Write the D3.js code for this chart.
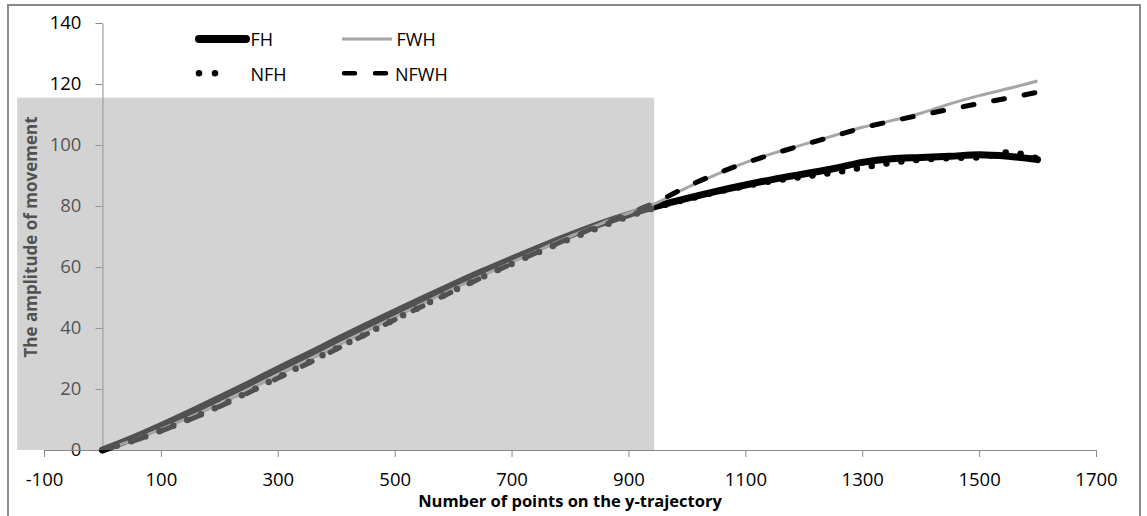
<!DOCTYPE html>
<html>
<head>
<meta charset="utf-8">
<script src="https://cdn.jsdelivr.net/npm/d3@7"></script>
<style>
  html, body { margin: 0; padding: 0; background: #fff; }
  svg { display: block; }
  text { font-family: "Open Sans", "Noto Sans", sans-serif; }
</style>
</head>
<body>
<svg id="chart" width="1147" height="516"></svg>
<script>
// ---- data ----
const xValues = [0,50,100,150,200,250,300,350,400,450,500,550,600,650,700,750,800,850,900,950,1000,1050,1100,1150,1200,1250,1300,1350,1400,1450,1500,1550,1600];
const fh   = [0,3.8,8,12.4,17,21.7,26.5,31.2,36,40.7,45.3,49.8,54.2,58.5,62.6,66.6,70.4,74,77.2,80,82.5,84.8,86.9,88.8,90.5,92.2,94.3,95.5,95.9,96.3,96.8,96.3,95.2];
const fwh  = [0,3,6.8,10.8,15,19.7,24.5,29.2,34,38.8,43.5,48.2,52.8,57.2,61.5,65.8,70,74,77.7,81.2,86,90.3,94.2,97.4,100.2,103,105.8,108,110.4,113.5,116.2,118.5,121];
const nfh  = [0,2.9,6.3,10.2,14.4,19,23.8,28.5,33.3,38,42.8,47.5,52.2,56.7,61,65.2,69.2,73,76.6,79.7,82.2,84.5,86.5,88.3,89.6,90.9,92.6,94.2,95.2,95.7,95.9,97.6,95.6];
const nfwh = [0,2.8,6.2,10,14.2,18.8,23.5,28.2,33,37.8,42.7,47.4,52,56.6,61,65.3,69.5,73.6,77.5,81.5,86.3,90.5,94.1,97.2,100.1,102.8,105.6,107.8,109.8,111.7,113.6,115.4,117.3];
const seriesNames = ["FH", "FWH", "NFH", "NFWH"];
const xTicks = [-100,100,300,500,700,900,1100,1300,1500,1700];
const yTicks = [0,20,40,60,80,100,120,140];
const xDomain = [-100, 1700];
const yDomain = [0, 140];
const shadeX = [-146, 944];
const shadeY = [0, 115.5];
const xTitle = "Number of points on the y-trajectory";
const yTitle = "The amplitude of movement";

// ---- drawing ----
const svg = d3.select("#chart");
const x = d3.scaleLinear().domain(xDomain).range([44, 1096]);
const y = d3.scaleLinear().domain(yDomain).range([450, 23]);
const plain = d => String(d);

// outer frame
svg.append("rect").attr("x", 8).attr("y", 5).attr("width", 1132).attr("height", 520)
  .attr("fill", "none").attr("stroke", "#8a8a8a").attr("stroke-width", 2);

const axisColor = "#898989";

// y axis
const yAxis = svg.append("g").attr("transform", `translate(${x(0)},0)`)
  .call(d3.axisLeft(y).tickValues(yTicks).tickFormat(plain).tickSize(7).tickSizeOuter(0).tickPadding(14));
// x axis
const xAxis = svg.append("g").attr("transform", `translate(0,${y(0)})`)
  .call(d3.axisBottom(x).tickValues(xTicks).tickFormat(plain).tickSize(7).tickSizeOuter(0).tickPadding(15.5));
[yAxis, xAxis].forEach(g => {
  g.select(".domain").attr("stroke", axisColor).attr("stroke-width", 1);
  g.selectAll(".tick line").attr("stroke", axisColor);
  g.selectAll(".tick text").attr("fill", "#000").style("font-size", "18.5px")
    .style("font-family", "'Open Sans', sans-serif");
});

// axis titles
svg.append("text").attr("x", 570).attr("y", 507).attr("text-anchor", "middle")
  .style("font-size", "16.5px").style("font-weight", "bold").attr("fill", "#000").text(xTitle);
svg.append("text").attr("transform", "translate(37,237) rotate(-90)").attr("text-anchor", "middle")
  .style("font-size", "17px").style("font-weight", "bold").attr("fill", "#000").text(yTitle);

// series styles
const styles = {
  FH:   { stroke: "#000", width: 7, dash: null, cap: "round" },
  FWH:  { stroke: "#a6a6a6", width: 3, dash: null, cap: "butt" },
  NFH:  { stroke: "#000", width: 6.5, dash: "0,15", cap: "round" },
  NFWH: { stroke: "#000", width: 5, dash: "11,20", cap: "round" }
};
const seriesValues = { FH: fh, FWH: fwh, NFH: nfh, NFWH: nfwh };

const line = d3.line().x(d => x(d[0])).y(d => y(d[1])).curve(d3.curveMonotoneX);
seriesNames.forEach(name => {
  const st = styles[name];
  const pts = xValues.map((xv, i) => [xv, seriesValues[name][i]]);
  svg.append("path").datum(pts).attr("d", line)
    .attr("fill", "none").attr("stroke", st.stroke).attr("stroke-width", st.width)
    .attr("stroke-linecap", st.cap).attr("stroke-linejoin", "round")
    .attr("stroke-dasharray", st.dash);
});

// legend
const legendItems = [
  { name: "FH",   x1: 199, x2: 246, ly: 39,   tx: 250.5, ty: 46 },
  { name: "FWH",  x1: 342, x2: 392, ly: 39,   tx: 396.5, ty: 46 },
  { name: "NFH",  x1: 199, x2: 231, ly: 73.3, tx: 250.5, ty: 80.7 },
  { name: "NFWH", x1: 344, x2: 387, ly: 73.3, tx: 395,   ty: 80.7 }
];
const lg = svg.append("g");
legendItems.forEach(it => {
  const st = styles[it.name];
  lg.append("line").attr("x1", it.x1).attr("x2", it.x2).attr("y1", it.ly).attr("y2", it.ly)
    .attr("stroke", st.stroke).attr("stroke-width", it.name === "FH" ? 8 : (it.name === "NFWH" ? 4.5 : st.width))
    .attr("stroke-linecap", st.cap).attr("stroke-dasharray", it.name === "NFH" ? "0,16" : st.dash);
  lg.append("text").attr("x", it.tx).attr("y", it.ty).style("font-size", "18px")
    .attr("fill", "#000").text(it.name);
});

// translucent shaded region drawn on top
svg.append("rect")
  .attr("x", x(shadeX[0])).attr("y", y(shadeY[1]))
  .attr("width", x(shadeX[1]) - x(shadeX[0]))
  .attr("height", y(shadeY[0]) - y(shadeY[1]))
  .attr("fill", "#a5a5a5").attr("fill-opacity", 0.49);
</script>
</body>
</html>
